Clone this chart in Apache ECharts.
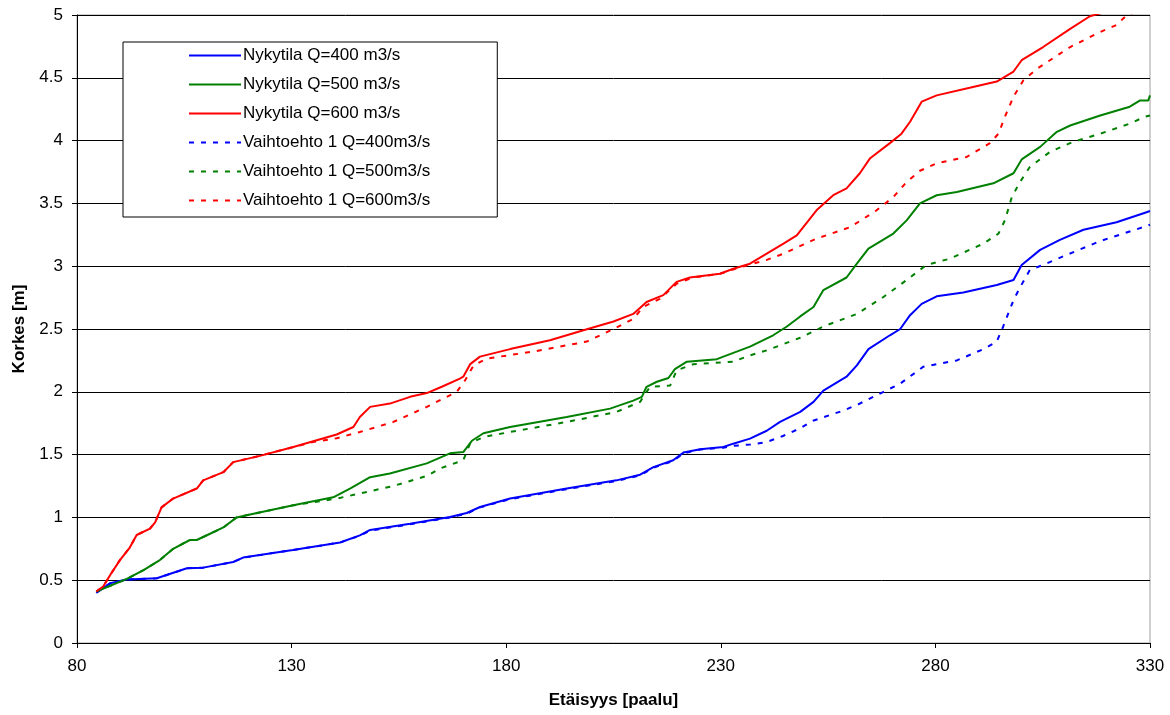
<!DOCTYPE html>
<html>
<head>
<meta charset="utf-8">
<script src="https://cdn.jsdelivr.net/npm/echarts@6/dist/echarts.min.js"></script>
<style>
  html, body { margin: 0; padding: 0; background: #fff; }
  #main { width: 1170px; height: 715px; }
</style>
</head>
<body>
<div id="main"></div>
<script>
// akselit
var xTicks = [80, 130, 180, 230, 280, 330];
var yTicks = [0, 0.5, 1, 1.5, 2, 2.5, 3, 3.5, 4, 4.5, 5];

var seriesNames = [
  'Nykytila Q=400 m3/s',
  'Nykytila Q=500 m3/s',
  'Nykytila Q=600 m3/s',
  'Vaihtoehto 1 Q=400m3/s',
  'Vaihtoehto 1 Q=500m3/s',
  'Vaihtoehto 1 Q=600m3/s'
];

// [paalu, korkeus]
var nyky400 = [
  [84.5,0.40],[87.7,0.475],[91.6,0.505],[98.6,0.515],[105.6,0.595],[109.4,0.60],[116.4,0.645],[118.7,0.68],
  [130.3,0.74],[141.3,0.80],[145.9,0.857],[148.3,0.90],[157.6,0.95],[166.9,1.003],[170.8,1.035],[173.9,1.083],
  [180.9,1.15],[194.1,1.23],[205.7,1.295],[211.2,1.34],[214.3,1.40],[218.9,1.455],[221.3,1.516],[225.2,1.542],
  [230.6,1.56],[232.9,1.587],[236.8,1.627],[240.7,1.69],[243.8,1.76],[248.5,1.84],[251.6,1.92],[253.9,2.01],
  [259.3,2.12],[261.7,2.21],[264.4,2.34],[269.4,2.45],[271.8,2.50],[274.1,2.61],[276.8,2.70],[280.3,2.76],
  [286.5,2.79],[294.3,2.85],[298.2,2.89],[300.1,3.01],[304.4,3.13],[309.0,3.21],[314.5,3.29],[322.2,3.35],
  [329.2,3.43],[330,3.44]
];
var vaiht400 = [
  [84.5,0.40],[87.7,0.475],[91.6,0.505],[98.6,0.515],[105.6,0.595],[109.4,0.60],[116.4,0.645],[118.7,0.68],
  [130.3,0.74],[141.3,0.80],[145.9,0.855],[148.3,0.895],[157.6,0.945],[166.9,1.0],[170.8,1.03],[173.9,1.08],
  [180.9,1.145],[194.1,1.225],[205.7,1.29],[211.2,1.335],[214.3,1.395],[218.9,1.45],[221.3,1.51],[225.2,1.54],
  [230.6,1.555],[232.9,1.57],[236.8,1.58],[240.7,1.60],[244.6,1.65],[248.5,1.71],[251.5,1.77],[258.5,1.85],
  [262,1.90],[267.9,2.00],[271.8,2.065],[277.2,2.20],[285.0,2.25],[291.2,2.34],[294.3,2.40],[295.8,2.52],
  [298.2,2.73],[299.7,2.83],[302.0,2.97],[305.1,3.01],[310.6,3.09],[318.4,3.20],[329.2,3.32],[330,3.33]
];
var nyky500 = [
  [84.5,0.41],[91.6,0.51],[95.5,0.58],[99.3,0.66],[102.4,0.75],[106.3,0.82],[107.9,0.82],[111.0,0.87],
  [114.1,0.92],[117.2,1.0],[119.5,1.017],[130.4,1.096],[139.7,1.16],[143.6,1.23],[148.3,1.32],[152.9,1.35],
  [161.5,1.43],[166.9,1.51],[170.0,1.52],[172.0,1.61],[174.7,1.67],[180.9,1.72],[194.1,1.80],[204.2,1.866],
  [209.6,1.93],[211.6,1.96],[212.7,2.04],[215.1,2.08],[217.8,2.11],[219.3,2.18],[222.1,2.24],[229.1,2.26],
  [230.6,2.28],[236.8,2.36],[242.2,2.45],[245.4,2.52],[248.5,2.60],[251.6,2.675],[253.9,2.81],[259.3,2.91],
  [261.7,3.02],[264.4,3.14],[270.2,3.26],[273.3,3.365],[276.4,3.50],[280.3,3.565],[285.0,3.59],[293.5,3.66],
  [298.2,3.74],[300.1,3.85],[304.4,3.95],[308.3,4.07],[311.4,4.12],[318.4,4.20],[325.3,4.27],[327.7,4.32],
  [329.6,4.32],[330,4.36]
];
var vaiht500 = [
  [84.5,0.41],[91.6,0.51],[95.5,0.58],[99.3,0.66],[102.4,0.75],[106.3,0.82],[107.9,0.82],[111.0,0.87],
  [114.1,0.92],[117.2,1.0],[119.5,1.017],[130.4,1.096],[135,1.12],[140.5,1.15],[145.9,1.19],[153.7,1.25],
  [161.5,1.33],[164.6,1.39],[170.0,1.455],[171.6,1.59],[174.7,1.64],[180.9,1.68],[194.1,1.76],[205.7,1.84],
  [211.2,1.92],[213.5,2.04],[218.2,2.05],[219.7,2.17],[223.6,2.22],[232.9,2.24],[236.8,2.29],[240.7,2.33],
  [244.6,2.38],[248.5,2.43],[253.9,2.52],[261.7,2.62],[267.9,2.755],[273.3,2.89],[277.9,3.01],[283.4,3.06],
  [291.2,3.18],[294.7,3.26],[296.2,3.365],[297.8,3.55],[299.7,3.67],[302.0,3.79],[306.7,3.91],[312.1,3.99],
  [318.4,4.055],[325.3,4.135],[328.8,4.19],[330,4.2]
];
var nyky600 = [
  [84.5,0.41],[86.1,0.45],[87.7,0.54],[90.0,0.66],[92.3,0.76],[93.9,0.86],[97.0,0.91],[98.2,0.96],
  [99.7,1.08],[102.4,1.15],[107.9,1.23],[109.4,1.295],[114.1,1.36],[116.4,1.44],[122.6,1.49],[130.4,1.56],
  [140.5,1.66],[144.4,1.72],[145.9,1.80],[148.3,1.88],[152.9,1.906],[157.6,1.96],[161.5,1.99],[165,2.04],
  [169.2,2.105],[170.0,2.12],[171.6,2.22],[173.9,2.28],[180.9,2.34],[190.2,2.41],[198.0,2.49],[205.0,2.56],
  [209.6,2.62],[212.7,2.715],[216.6,2.77],[219.7,2.875],[222.8,2.91],[229.8,2.94],[232.9,2.98],[236.8,3.02],
  [240.7,3.10],[244.6,3.18],[247.7,3.245],[252.3,3.445],[256.2,3.565],[259.3,3.62],[262.4,3.74],[264.8,3.86],
  [269.4,3.98],[272.1,4.055],[274.1,4.15],[276.8,4.31],[280.3,4.36],[288.0,4.42],[294.3,4.47],[298.2,4.55],
  [300.1,4.64],[305.1,4.745],[311.4,4.89],[316.0,4.99],[319.1,5.02],[325,5.08],[330,5.12]
];
var vaiht600 = [
  [84.5,0.41],[86.1,0.45],[87.7,0.54],[90.0,0.66],[92.3,0.76],[93.9,0.86],[97.0,0.91],[98.2,0.96],
  [99.7,1.08],[102.4,1.15],[107.9,1.23],[109.4,1.295],[114.1,1.36],[116.4,1.44],[122.6,1.49],[130.4,1.56],
  [135,1.60],[140.5,1.63],[145.9,1.68],[153.7,1.76],[161.5,1.88],[168.5,2.0],[170.4,2.09],[172.4,2.21],
  [175.5,2.265],[186.3,2.32],[198.8,2.40],[205.0,2.50],[209.6,2.58],[211.9,2.675],[215.8,2.74],[219.7,2.86],
  [223.6,2.91],[229.8,2.94],[234.4,2.99],[240.7,3.05],[244.6,3.10],[252.3,3.22],[260.1,3.31],[266.3,3.445],
  [270.2,3.55],[273.3,3.67],[276.4,3.76],[280.3,3.82],[287.3,3.87],[292.7,3.98],[294.7,4.055],[296.2,4.19],
  [298.2,4.35],[300.5,4.48],[303.6,4.57],[306.7,4.64],[311.4,4.745],[318.4,4.865],[322.2,4.92],[324.6,5.0],
  [328,5.04],[330,5.07]
];

var colors = ['#0000ff', '#008000', '#ff0000'];
var seriesData = [nyky400, nyky500, nyky600, vaiht400, vaiht500, vaiht600];

var font = '"Liberation Sans", Arial, sans-serif';

var series = seriesData.map(function (d, i) {
  var dashed = i >= 3;
  return {
    name: seriesNames[i],
    type: 'line',
    data: d,
    symbol: 'none',
    clip: true,
    color: colors[i % 3],
    lineStyle: {
      color: colors[i % 3],
      width: 2,
      type: dashed ? [5, 7] : 'solid'
    },
    z: dashed ? 3 : 4
  };
});

var chart = echarts.init(document.getElementById('main'));
chart.setOption({
  animation: false,
  backgroundColor: '#fff',
  textStyle: { fontFamily: font },
  grid: {
    left: 77,
    right: 20,
    top: 15,
    bottom: 72,
    show: true,
    borderColor: '#a0a0a0',
    borderWidth: 1
  },
  legend: {
    orient: 'vertical',
    left: 123,
    top: 42,
    padding: [5, 67, 8, 65],
    itemWidth: 52,
    itemHeight: 14,
    itemGap: 12,
    borderColor: '#000',
    borderWidth: 1,
    backgroundColor: '#fff',
    itemStyle: { opacity: 0 },
    textStyle: { fontFamily: font, fontSize: 17, color: '#000', padding: [0, 0, 0, -3] },
    data: seriesNames
  },
  xAxis: {
    type: 'value',
    min: 80,
    max: 330,
    interval: 50,
    name: 'Etäisyys [paalu]',
    nameLocation: 'middle',
    nameGap: 49,
    nameTextStyle: { fontFamily: font, fontSize: 17, fontWeight: 'bold', color: '#000' },
    axisLine: { show: true, lineStyle: { color: '#000', width: 1 } },
    axisTick: { show: true, length: 5, lineStyle: { color: '#000' } },
    axisLabel: { fontFamily: font, fontSize: 17, color: '#000', margin: 15 },
    splitLine: { show: false }
  },
  yAxis: {
    type: 'value',
    min: 0,
    max: 5,
    interval: 0.5,
    name: 'Korkes [m]',
    nameLocation: 'middle',
    nameGap: 49,
    nameRotate: 90,
    nameTextStyle: { fontFamily: font, fontSize: 17, fontWeight: 'bold', color: '#000' },
    axisLine: { show: true, lineStyle: { color: '#000', width: 1 } },
    axisTick: { show: true, length: 5, lineStyle: { color: '#000' } },
    axisLabel: { fontFamily: font, fontSize: 17, color: '#000', margin: 14 },
    splitLine: { show: true, lineStyle: { color: '#000', width: 1 } }
  },
  series: series
});
</script>
</body>
</html>
